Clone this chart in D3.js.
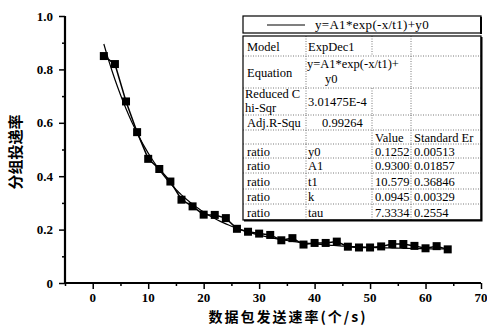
<!DOCTYPE html>
<html lang="zh">
<head>
<meta charset="UTF-8">
<title>分组投递率</title>
<script src="https://d3js.org/d3.v7.min.js"></script>
<style>
  body { margin: 0; background: #fff; }
  svg text { fill: #000; }
  .tick-label { font-family: "Liberation Serif", serif; font-weight: bold; font-size: 13px; }
  .cell { font-family: "Liberation Serif", serif; font-size: 12.5px; }
  .legend-text { font-family: "Liberation Serif", serif; font-size: 13px; letter-spacing: 0.3px; }
</style>
</head>
<body>
<svg id="chart"></svg>
<script>
  const width = 487, height = 328;

  // packet send rate (packets/s) and delivery ratio
  const rates = [2, 4, 6, 8, 10, 12, 14, 16, 18, 20, 22, 24, 26, 28, 30, 32,
                 34, 36, 38, 40, 42, 44, 46, 48, 50, 52, 54, 56, 58, 60, 62, 64];
  const ratios = [0.850, 0.820, 0.680, 0.565, 0.465, 0.427, 0.380, 0.312,
                  0.287, 0.256, 0.255, 0.243, 0.203, 0.192, 0.185, 0.180,
                  0.160, 0.168, 0.144, 0.150, 0.150, 0.155, 0.136, 0.133,
                  0.133, 0.137, 0.146, 0.146, 0.139, 0.130, 0.138, 0.126];

  // ExpDec1 fit parameters from the table
  const fitY0 = 0.1252, fitA1 = 0.9300, fitT1 = 10.579;

  const xTicks = [0, 10, 20, 30, 40, 50, 60, 70];
  const yTicks = [0, 0.2, 0.4, 0.6, 0.8, 1.0];

  // fit table text
  const tableRows = [
    ["Model", "ExpDec1", "", ""],
    ["Equation", "", "", ""],
    ["", "3.01475E-4", "", ""],
    ["Adj.R-Squ", "", "", ""],
    ["", "", "Value", "Standard Er"],
    ["ratio", "y0", "0.1252", "0.00513"],
    ["ratio", "A1", "0.9300", "0.01857"],
    ["ratio", "t1", "10.579", "0.36846"],
    ["ratio", "k", "0.0945", "0.00329"],
    ["ratio", "tau", "7.3334", "0.2554"]
  ];

  const svg = d3.select("#chart").attr("width", width).attr("height", height);

  const x = d3.scaleLinear().domain([-5, 70]).range([65, 481]);
  const y = d3.scaleLinear().domain([0, 1]).range([283, 16]);

  // axes
  const xAxis = svg.append("g").attr("transform", `translate(0,${y(0)})`)
    .call(d3.axisBottom(x).tickValues(d3.range(-5, 71, 5)).tickSize(4).tickFormat(""));
  xAxis.selectAll(".tick line").attr("y2", d => d % 10 === 0 ? 6 : 3).attr("stroke-width", 1.5);
  xAxis.select(".domain").attr("stroke-width", 2.2).attr("d", `M${x(-5)},0H${x(70)}`);
  svg.append("g").selectAll("text").data(xTicks).join("text")
    .attr("class", "tick-label").attr("x", d => x(d)).attr("y", 302)
    .attr("text-anchor", "middle").text(d => d);

  const yAxis = svg.append("g").attr("transform", `translate(${x(-5)},0)`)
    .call(d3.axisLeft(y).tickValues(d3.range(0, 1.01, 0.1)).tickSize(4).tickFormat(""));
  yAxis.selectAll(".tick line")
    .attr("x2", (d, i) => i % 2 === 0 ? -6 : -3).attr("stroke-width", 1.5);
  yAxis.select(".domain").attr("stroke-width", 2.2).attr("d", `M0,${y(1)}V${y(0)}`);
  svg.append("g").selectAll("text").data(yTicks).join("text")
    .attr("class", "tick-label").attr("x", 53).attr("y", d => y(d) + 4.5)
    .attr("text-anchor", "end").text(d => d === 0 ? "0" : d.toFixed(1));

  // axis titles
  svg.append("text").attr("transform", "translate(21,152) rotate(-90)")
    .attr("text-anchor", "middle")
    .style("font-family", "'Noto Sans CJK SC', sans-serif").style("font-weight", "bold")
    .style("font-size", "15px").text("分组投递率");
  svg.append("text").attr("x", 288).attr("y", 322).attr("text-anchor", "middle")
    .style("font-family", "'Noto Sans CJK SC', sans-serif").style("font-weight", "bold")
    .style("font-size", "14px").style("letter-spacing", "2px")
    .text("数据包发送速率(个/s)");

  // fitted curve
  const fitLine = d3.line().x(d => x(d)).y(d => y(fitA1 * Math.exp(-d / fitT1) + fitY0));
  const fitXs = d3.range(rates[0], rates[rates.length - 1] + 0.01, 0.5);
  svg.append("path").datum(fitXs).attr("d", fitLine)
    .attr("fill", "none").attr("stroke", "#000").attr("stroke-width", 1.2);

  // measured data line + square markers
  const dataLine = d3.line().x((d, i) => x(rates[i])).y(d => y(d));
  svg.append("path").datum(ratios).attr("d", dataLine)
    .attr("fill", "none").attr("stroke", "#000").attr("stroke-width", 1.5);
  svg.append("g").selectAll("rect").data(ratios).join("rect")
    .attr("x", (d, i) => x(rates[i]) - 4).attr("y", d => y(d) - 4)
    .attr("width", 8).attr("height", 8).attr("fill", "#000");

  // legend box
  const lg = svg.append("g");
  lg.append("rect").attr("x", 243).attr("y", 16).attr("width", 238).attr("height", 17)
    .attr("fill", "#fff").attr("stroke", "#000").attr("stroke-width", 1.2);
  lg.append("line").attr("x1", 481).attr("x2", 481).attr("y1", 17).attr("y2", 34)
    .attr("stroke", "#000").attr("stroke-width", 2);
  lg.append("line").attr("x1", 267).attr("x2", 305).attr("y1", 25).attr("y2", 25)
    .attr("stroke", "#000").attr("stroke-width", 1.2);
  lg.append("text").attr("class", "legend-text").attr("x", 315).attr("y", 29)
    .text("y=A1*exp(-x/t1)+y0");

  // fit table
  const colX = [243, 306, 372, 411, 481];
  const rowY = [36, 56, 88, 115, 130, 144, 158, 173, 189, 204, 220];
  const tb = svg.append("g");
  tb.append("rect").attr("x", colX[0]).attr("y", rowY[0])
    .attr("width", colX[4] - colX[0]).attr("height", rowY[10] - rowY[0])
    .attr("fill", "#fff");
  // dotted inner grid
  tb.selectAll("line.h").data(rowY.slice(1, -1)).join("line").attr("class", "h")
    .attr("x1", colX[0]).attr("x2", colX[4]).attr("y1", d => d).attr("y2", d => d)
    .attr("stroke", "#555").attr("stroke-width", 0.8).attr("stroke-dasharray", "1,1.5");
  colX.slice(1, -1).forEach((cx, ci) => {
    rowY.slice(0, -1).forEach((ry, ri) => {
      if (ci === 1 && ri === 1) return; // equation text spans across
      tb.append("line").attr("x1", cx).attr("x2", cx)
        .attr("y1", ry).attr("y2", rowY[ri + 1])
        .attr("stroke", "#555").attr("stroke-width", 0.8).attr("stroke-dasharray", "1,1.5");
    });
  });
  // outer border with heavier right/bottom edges
  tb.append("rect").attr("x", colX[0]).attr("y", rowY[0])
    .attr("width", colX[4] - colX[0]).attr("height", rowY[10] - rowY[0])
    .attr("fill", "none").attr("stroke", "#000").attr("stroke-width", 1.2);
  tb.append("path").attr("d", `M${colX[0] + 1},${rowY[10] + 0.5}H${colX[4] + 0.5}V${rowY[0] + 1}`)
    .attr("fill", "none").attr("stroke", "#000").attr("stroke-width", 2);

  svg.append("clipPath").attr("id", "tclip").append("rect")
    .attr("x", colX[0]).attr("y", rowY[0]).attr("width", colX[4] - colX[0] - 1)
    .attr("height", rowY[10] - rowY[0]);
  const tt = tb.append("g").attr("clip-path", "url(#tclip)");
  const padX = [4, 2, 3, 3];
  tableRows.forEach((row, ri) => {
    const cy = (rowY[ri] + rowY[ri + 1]) / 2 + 4.5;
    row.forEach((txt, ci) => {
      if (!txt) return;
      tt.append("text").attr("class", "cell").attr("x", colX[ci] + padX[ci]).attr("y", cy).text(txt);
    });
  });
  // two-line cells
  tt.append("text").attr("class", "cell").attr("x", 307).attr("y", 68).text("y=A1*exp(-x/t1)+");
  tt.append("text").attr("class", "cell").attr("x", 325).attr("y", 83).text("y0");
  tt.append("text").attr("class", "cell").attr("x", 245).attr("y", 98).text("Reduced C");
  tt.append("text").attr("class", "cell").attr("x", 245).attr("y", 112).text("hi-Sqr");
  tt.append("text").attr("class", "cell").attr("x", 322).attr("y", 127).text("0.99264");
</script>
</body>
</html>
